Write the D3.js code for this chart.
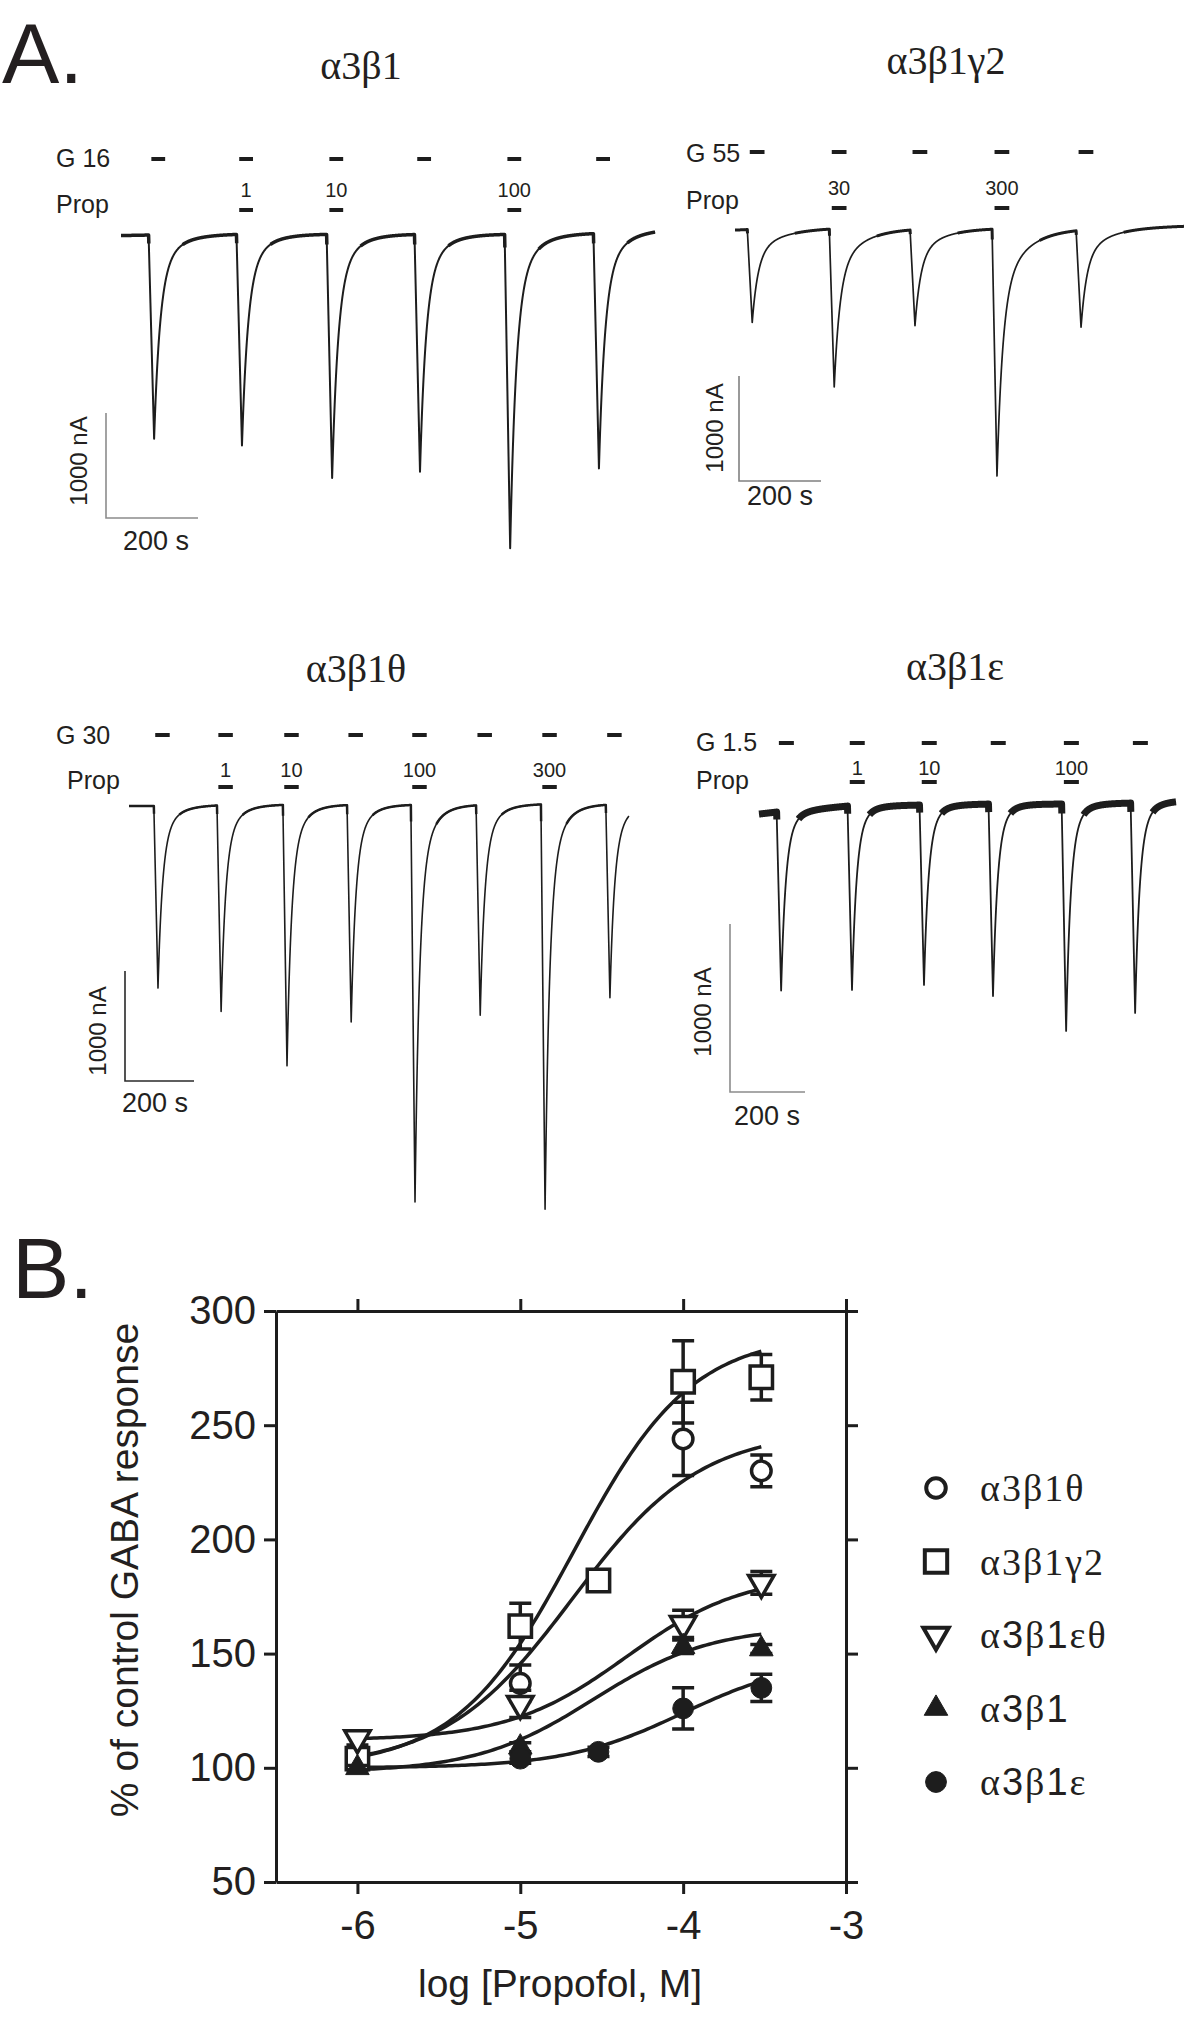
<!DOCTYPE html>
<html>
<head>
<meta charset="utf-8">
<script src="https://cdn.jsdelivr.net/npm/d3@7"></script>
<style>
	body { margin: 0; background: #fff; }
	svg { display: block; }
	text { font-family: "Liberation Sans", Arial, sans-serif; fill: #231f20; }
	.serif { font-family: "Liberation Serif", "Times New Roman", serif; }
</style>
</head>
<body>
<div class="viz"></div>
<script>
// ---------- panel A data: GABA application onsets (s), peak currents (nA), propofol (uM), baseline drift (nA) ----------
let a1Onsets = [60, 251, 447, 638, 834, 1027],
	a1Peaks = [1940, 2010, 2320, 2260, 2990, 2240],
	a1Prop = ['', '1', '10', '', '100', ''],
	a1Drift = [-15, -10, 0, 0, 0, 0, 10, 40];

let a2Onsets = [30, 230, 427, 627, 832],
	a2Peaks = [886, 1505, 914, 2352, 924],
	a2Prop = ['', '30', '', '300', ''],
	a2Drift = [-20, -15, 0, 0, 0, 0, 20];

let a3Onsets = [72, 255, 446, 632, 817, 1006, 1194, 1382],
	a3Peaks = [1655, 1873, 2373, 1973, 3609, 1909, 3682, 1755],
	a3Prop = ['', '1', '10', '', '100', '', '300', ''],
	a3Drift = [-10, -10, 0, 5, 5, 5, 5, 10, 10, 10];

let a4Onsets = [47, 236, 428, 612, 807, 991],
	a4Peaks = [1065, 1095, 1071, 1143, 1351, 1250],
	a4Prop = ['', '1', '10', '', '100', ''],
	a4Drift = [-54, -42, -6, 0, 6, 6, 12, 24];

// ---------- panel B data: log[propofol], % of control, s.e.m. ----------
let bNames = ['α3β1θ', 'α3β1γ2', 'α3β1εθ', 'α3β1', 'α3β1ε'];
let thetaX = [-6, -5, -4, -3.52], thetaY = [103, 137, 244, 230], thetaErr = [2, 8, 16, 7];
let gamma2X = [-6, -5, -4.52, -4, -3.52], gamma2Y = [104, 162, 182, 269, 271], gamma2Err = [2, 10, 3, 18, 10];
let epsThetaX = [-6, -5, -4, -3.52], epsThetaY = [113, 128, 163, 181], epsThetaErr = [3, 6, 6, 5];
let a3b1X = [-6, -5, -4, -3.52], a3b1Y = [100, 109, 153, 152], a3b1Err = [1, 2, 3, 2];
let epsX = [-5, -4.52, -4, -3.52], epsY = [104, 107, 126, 135], epsErr = [2, 2, 9, 6];
// Hill fits: bottom, top, logEC50, slope
let thetaFit = [100, 248, -4.68, 1.1],
	gamma2Fit = [100, 290, -4.67, 1.2],
	epsThetaFit = [112, 185, -4.35, 1.2],
	a3b1Fit = [98, 162, -4.55, 1.2],
	epsFit = [100, 148, -4.0, 1.2];
let xTicks = [-6, -5, -4, -3], yTicks = [50, 100, 150, 200, 250, 300];

let width = 1200, height = 2018, ink = '#1d1d1d';

let svg = d3.select('.viz').append('svg')
	.attr('width', width)
	.attr('height', height);

svg.append('text').attr('x', 2).attr('y', 83).style('font-size', '86px').text('A.');
svg.append('text').attr('x', 12).attr('y', 1298).style('font-size', '86px').text('B.');

// ---------- panel A ----------
let panels = [
	{title: 'α3β1', gName: 'G 16', onsets: a1Onsets, peaks: a1Peaks, prop: a1Prop, drift: a1Drift,
		x0: 121, baseY: 234, pxPerS: 0.46, pxPerNA: 0.105, tEnd: 1161, tau1: 13, tau2: 40, w: 0.8, stroke: 2, band: 3.5, app: 30, lag: 6,
		titlePos: [361, 79], gPos: [56, 167], gY: 159, propPos: [56, 213], numY: 197, propY: 210,
		corner: [106, 518], nAPos: [78, 461], sPos: [123, 550], barColor: '#8c8c8c'},
	{title: 'α3β1γ2', gName: 'G 55', onsets: a2Onsets, peaks: a2Peaks, prop: a2Prop, drift: a2Drift,
		x0: 735, baseY: 228, pxPerS: 0.41, pxPerNA: 0.105, tEnd: 1095, tau1: 14, tau2: 60, w: 0.72, stroke: 1.7, band: 3, app: 36, lag: 6,
		titlePos: [946, 74], gPos: [686, 162], gY: 152, propPos: [686, 209], numY: 195, propY: 208,
		corner: [739, 481], nAPos: [714, 428], sPos: [747, 505], barColor: '#808080'},
	{title: 'α3β1θ', gName: 'G 30', onsets: a3Onsets, peaks: a3Peaks, prop: a3Prop, drift: a3Drift,
		x0: 129, baseY: 805, pxPerS: 0.345, pxPerNA: 0.11, tEnd: 1449, tau1: 13, tau2: 40, w: 0.8, stroke: 1.6, band: 2.5, app: 42, lag: 4,
		titlePos: [356, 682], gPos: [56, 744], gY: 735, propPos: [67, 789], numY: 777, propY: 787,
		corner: [125, 1081], nAPos: [97, 1031], sPos: [122, 1112], barColor: '#2a2a2a'},
	{title: 'α3β1ε', gName: 'G 1.5', onsets: a4Onsets, peaks: a4Peaks, prop: a4Prop, drift: a4Drift,
		x0: 759, baseY: 805, pxPerS: 0.375, pxPerNA: 0.168, tEnd: 1112, tau1: 12, tau2: 30, w: 0.85, stroke: 1.8, band: 7, app: 40, lag: 6,
		titlePos: [955, 680], gPos: [696, 751], gY: 743, propPos: [696, 789], numY: 775, propY: 782,
		corner: [730, 1092], nAPos: [702, 1012], sPos: [734, 1125], barColor: '#8c8c8c'}
];

let rise = 12;

panels.forEach(function(p) {
	let xs = d3.scaleLinear().domain([0, 200]).range([p.x0, p.x0 + 200 * p.pxPerS]);
	let ys = d3.scaleLinear().domain([0, -1000]).range([p.baseY, p.baseY + 1000 * p.pxPerNA]);
	let drift = d3.scaleLinear().domain([0].concat(p.onsets, [p.tEnd])).range(p.drift);

	let pts = d3.range(0, p.tEnd + 0.25, 0.5).map(function(t) {
		let spike = 0, frac = 0;
		p.onsets.forEach(function(o, i) {
			let dt = t - o;
			if (dt < 0) return;
			let f = dt < rise ? dt / rise
				: p.w * Math.exp(-(dt - rise) / p.tau1) + (1 - p.w) * Math.exp(-(dt - rise) / p.tau2);
			spike += p.peaks[i] * f;
			frac = Math.max(frac, f);
		});
		return {t: t, i: drift(t) - spike, f: frac};
	});

	let g = svg.append('g');

	g.append('text').attr('class', 'serif')
		.attr('x', p.titlePos[0]).attr('y', p.titlePos[1])
		.attr('text-anchor', 'middle')
		.style('font-size', '40px')
		.text(p.title);

	g.append('text').attr('x', p.gPos[0]).attr('y', p.gPos[1]).style('font-size', '25px').text(p.gName);
	g.append('text').attr('x', p.propPos[0]).attr('y', p.propPos[1]).style('font-size', '25px').text('Prop');

	// GABA application bars
	g.selectAll('.gdash')
		.data(p.onsets)
		.enter().append('line')
		.attr('x1', function(d) { return xs(d + p.lag); })
		.attr('x2', function(d) { return xs(d + p.lag + p.app); })
		.attr('y1', p.gY).attr('y2', p.gY)
		.attr('stroke', ink).attr('stroke-width', 4);

	// propofol co-application bars + concentrations
	let co = p.onsets.map(function(d, i) { return {t: d + p.lag, c: p.prop[i]}; })
		.filter(function(d) { return d.c !== ''; });

	g.selectAll('.pdash')
		.data(co)
		.enter().append('line')
		.attr('x1', function(d) { return xs(d.t); })
		.attr('x2', function(d) { return xs(d.t + p.app); })
		.attr('y1', p.propY).attr('y2', p.propY)
		.attr('stroke', ink).attr('stroke-width', 4);

	g.selectAll('.pnum')
		.data(co)
		.enter().append('text')
		.attr('x', function(d) { return xs(d.t + p.app / 2); })
		.attr('y', p.numY)
		.attr('text-anchor', 'middle')
		.style('font-size', '20px')
		.text(function(d) { return d.c; });

	let line = d3.line()
		.x(function(d) { return xs(d.t); })
		.y(function(d) { return ys(d.i); });

	g.append('path')
		.datum(pts)
		.attr('d', line)
		.attr('fill', 'none')
		.attr('stroke', ink)
		.attr('stroke-width', p.stroke)
		.attr('stroke-linejoin', 'round');

	// recording noise makes the baseline look thicker
	g.append('path')
		.datum(pts)
		.attr('d', line.defined(function(d) { return d.f < 0.05; }))
		.attr('fill', 'none')
		.attr('stroke', ink)
		.attr('stroke-width', p.band)
		.attr('stroke-linejoin', 'round');

	// scale bars: 1000 nA, 200 s
	let cx = p.corner[0], cy = p.corner[1];
	let vLen = ys(-1000) - ys(0), hLen = xs(200) - xs(0);
	g.append('path')
		.attr('d', 'M' + cx + ',' + (cy - vLen) + 'V' + cy + 'H' + (cx + hLen))
		.attr('fill', 'none')
		.attr('stroke', p.barColor)
		.attr('stroke-width', 1.6);

	g.append('text')
		.attr('transform', 'translate(' + p.nAPos[0] + ',' + p.nAPos[1] + ')rotate(-90)')
		.attr('text-anchor', 'middle')
		.attr('dy', '0.36em')
		.style('font-size', '24px')
		.text('1000 nA');

	g.append('text')
		.attr('x', p.sPos[0]).attr('y', p.sPos[1])
		.style('font-size', '27px')
		.text('200 s');
});

// ---------- panel B ----------
let bx = d3.scaleLinear().domain([-6.5, -3]).range([276, 846]);
let by = d3.scaleLinear().domain([50, 300]).range([1882, 1311]);

let plot = svg.append('g').attr('class', 'plot');

function styleAxis(sel) {
	sel.selectAll('path, line').attr('stroke', ink).attr('stroke-width', 3);
	sel.selectAll('text').style('font-size', '40px').attr('fill', '#231f20')
		.style('font-family', '"Liberation Sans", Arial, sans-serif');
}

plot.append('g')
	.attr('transform', 'translate(0,' + by(50) + ')')
	.call(d3.axisBottom(bx).tickValues(xTicks).tickSize(12).tickSizeOuter(0).tickPadding(17)
		.tickFormat(function(d) { return String(d); }))
	.call(styleAxis);

plot.append('g')
	.attr('transform', 'translate(0,' + by(300) + ')')
	.call(d3.axisTop(bx).tickValues(xTicks).tickSize(12).tickSizeOuter(0).tickFormat(''))
	.call(styleAxis);

plot.append('g')
	.attr('transform', 'translate(' + bx(-6.5) + ',0)')
	.call(d3.axisLeft(by).tickValues(yTicks).tickSize(12).tickSizeOuter(0).tickPadding(8))
	.call(styleAxis);

plot.append('g')
	.attr('transform', 'translate(' + bx(-3) + ',0)')
	.call(d3.axisRight(by).tickValues(yTicks).tickSize(12).tickSizeOuter(0).tickFormat(''))
	.call(styleAxis);

plot.append('text')
	.attr('transform', 'translate(124,1570)rotate(-90)')
	.attr('text-anchor', 'middle')
	.attr('dy', '0.36em')
	.style('font-size', '39px')
	.text('% of control GABA response');

plot.append('text')
	.attr('x', 560).attr('y', 1997)
	.attr('text-anchor', 'middle')
	.style('font-size', '39px')
	.text('log [Propofol, M]');

let series = [
	{name: bNames[0], xs: thetaX, ys: thetaY, err: thetaErr, fit: thetaFit, shape: d3.symbolCircle, size: 300, filled: false, rot: 0, sansDigits: false},
	{name: bNames[1], xs: gamma2X, ys: gamma2Y, err: gamma2Err, fit: gamma2Fit, shape: d3.symbolSquare, size: 500, filled: false, rot: 0, sansDigits: false},
	{name: bNames[2], xs: epsThetaX, ys: epsThetaY, err: epsThetaErr, fit: epsThetaFit, shape: d3.symbolTriangle, size: 280, filled: false, rot: 180, sansDigits: true},
	{name: bNames[3], xs: a3b1X, ys: a3b1Y, err: a3b1Err, fit: a3b1Fit, shape: d3.symbolTriangle, size: 240, filled: true, rot: 0, sansDigits: true},
	{name: bNames[4], xs: epsX, ys: epsY, err: epsErr, fit: epsFit, shape: d3.symbolCircle, size: 340, filled: true, rot: 0, sansDigits: true}
];

function hill(f, x) {
	return f[0] + (f[1] - f[0]) / (1 + Math.pow(10, (f[2] - x) * f[3]));
}

let curve = d3.line()
	.x(function(d) { return bx(d[0]); })
	.y(function(d) { return by(d[1]); });

series.forEach(function(s) {
	let xs = d3.range(-6, -3.52 + 0.001, 0.02);
	plot.append('path')
		.datum(xs.map(function(x) { return [x, hill(s.fit, x)]; }))
		.attr('d', curve)
		.attr('fill', 'none')
		.attr('stroke', ink)
		.attr('stroke-width', 3.5);
});

series.forEach(function(s) {
	let pts = s.xs.map(function(x, i) { return {x: x, y: s.ys[i], e: s.err[i]}; });
	let g = plot.append('g');
	g.selectAll('.bar')
		.data(pts)
		.enter().append('path')
		.attr('d', function(d) {
			let x = bx(d.x), y1 = by(d.y + d.e), y2 = by(d.y - d.e);
			return 'M' + (x - 11) + ',' + y1 + 'H' + (x + 11) + 'M' + x + ',' + y1 + 'V' + y2 + 'M' + (x - 11) + ',' + y2 + 'H' + (x + 11);
		})
		.attr('fill', 'none')
		.attr('stroke', ink)
		.attr('stroke-width', 3.5);
	g.selectAll('.mark')
		.data(pts)
		.enter().append('path')
		.attr('d', d3.symbol().type(s.shape).size(s.size))
		.attr('transform', function(d) { return 'translate(' + bx(d.x) + ',' + by(d.y) + ')rotate(' + s.rot + ')'; })
		.attr('fill', s.filled ? ink : '#fff')
		.attr('stroke', ink)
		.attr('stroke-width', s.filled ? 1 : 3.5);
});

// legend
let legend = svg.append('g')
	.selectAll('g')
	.data(series)
	.enter().append('g')
	.attr('transform', function(d, i) { return 'translate(936,' + (1488 + i * 73.5) + ')'; });

legend.append('path')
	.attr('d', function(d) { return d3.symbol().type(d.shape).size(d.size)(); })
	.attr('transform', function(d) { return 'rotate(' + d.rot + ')'; })
	.attr('fill', function(d) { return d.filled ? ink : '#fff'; })
	.attr('stroke', ink)
	.attr('stroke-width', function(d) { return d.filled ? 1 : 4; });

legend.append('text')
	.attr('class', 'serif')
	.attr('x', 44)
	.attr('y', 13)
	.style('font-size', '38px')
	.style('letter-spacing', '2px')
	.selectAll('tspan')
	.data(function(d) {
		return d.name.split('').map(function(ch) { return {ch: ch, sans: d.sansDigits && /[0-9]/.test(ch)}; });
	})
	.enter().append('tspan')
	.style('font-family', function(c) { return c.sans ? '"Liberation Sans", Arial, sans-serif' : null; })
	.text(function(c) { return c.ch; });
</script>
</body>
</html>
